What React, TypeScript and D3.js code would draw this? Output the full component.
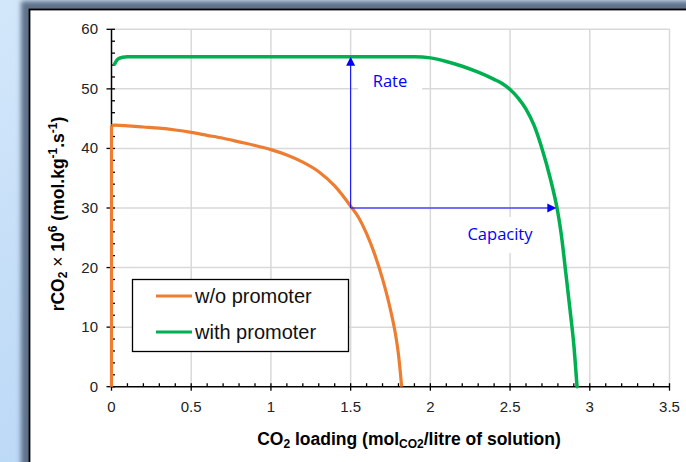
import React from "react";
import * as d3 from "d3";

const W = 686;
const H = 462;

// w/o promoter
const xOrange = [0, 0, 0.02, 0.1, 0.2, 0.3, 0.4, 0.5, 0.6, 0.7, 0.8, 0.9, 1.0, 1.1, 1.2, 1.3, 1.4, 1.5, 1.55, 1.6, 1.65, 1.7, 1.75, 1.78, 1.8, 1.82];
const yOrange = [0, 43.8, 43.9, 43.8, 43.6, 43.4, 43.1, 42.7, 42.2, 41.7, 41.1, 40.5, 39.8, 38.9, 37.7, 36.1, 33.7, 30.3, 28.4, 25.7, 22.3, 18.1, 12.9, 9.0, 5.4, 0];

// with promoter
const xGreen = [0.02, 0.04, 0.07, 0.1, 0.5, 1.0, 1.5, 1.9, 2.0, 2.1, 2.2, 2.3, 2.4, 2.45, 2.5, 2.55, 2.6, 2.65, 2.7, 2.75, 2.8, 2.82, 2.85, 2.88, 2.9, 2.92];
const yGreen = [54.2, 55.0, 55.3, 55.4, 55.4, 55.4, 55.4, 55.4, 55.2, 54.6, 53.8, 52.8, 51.6, 50.9, 49.9, 48.5, 46.6, 43.9, 40.0, 35.2, 29.2, 25.8, 19.0, 12.0, 7.0, 0];

const seriesNames = ["w/o promoter", "with promoter"];
const seriesColors = ["#ED7D31", "#00B050"];

const xTicks = [0, 0.5, 1, 1.5, 2, 2.5, 3, 3.5];
const xTickLabels = ["0", "0.5", "1", "1.5", "2", "2.5", "3", "3.5"];
const yTicks = [0, 10, 20, 30, 40, 50, 60];

// annotation values
const arrowBase = { x: 1.5, y: 30 };
const rateTop = 55.4;
const capacityEnd = 2.79;

export default function App() {
  const x = d3.scaleLinear().domain([0, 3.5]).range([111.5, 669.5]);
  const y = d3.scaleLinear().domain([0, 60]).range([386.7, 29.3]);

  const line = d3
    .line<[number, number]>()
    .x((d) => x(d[0]))
    .y((d) => y(d[1]))
    .curve(d3.curveMonotoneX);
  const straight = d3
    .line<[number, number]>()
    .x((d) => x(d[0]))
    .y((d) => y(d[1]));

  const orangeData: [number, number][] = xOrange.map((v, i) => [v, yOrange[i]]);
  const greenData: [number, number][] = xGreen.map((v, i) => [v, yGreen[i]]);

  const xMinor = d3.range(0, 3.5001, 0.1).filter((v) => Math.abs(v * 2 - Math.round(v * 2)) > 1e-6);
  const yMinor = d3.range(0, 60.001, 2).filter((v) => v % 10 !== 0);

  const font = "'Liberation Sans', Arial, sans-serif";
  const blue = "#0000FF";

  const bx = x(arrowBase.x);
  const by = y(arrowBase.y);
  const topY = y(rateTop);
  const endX = x(capacityEnd);

  return (
    <svg
      width={W}
      height={H}
      style={{ position: "absolute", left: 0, top: 0 }}
      fontFamily={font}
    >
      <defs>
        <linearGradient id="bg" x1="0" y1="0" x2="0" y2="1">
          <stop offset="0" stopColor="#d3e7fa" />
          <stop offset="1" stopColor="#bcd9f6" />
        </linearGradient>
        <filter id="blur" x="-10%" y="-10%" width="120%" height="120%">
          <feGaussianBlur stdDeviation="2.5" />
        </filter>
      </defs>
      <rect x={0} y={0} width={W} height={H} fill="url(#bg)" />
      <rect x={21} y={1} width={720} height={520} fill="#5f7189" filter="url(#blur)" />
      <rect x={29.5} y={9.5} width={700} height={500} fill="#ffffff" stroke="#000" strokeWidth={1.8} />

      {/* gridlines */}
      {xTicks.filter((t) => t > 0).map((t) => (
        <line key={"gx" + t} x1={x(t)} x2={x(t)} y1={y(0)} y2={y(60)} stroke="#d9d9d9" strokeWidth={1.5} />
      ))}
      {yTicks.filter((t) => t > 0).map((t) => (
        <line key={"gy" + t} x1={x(0)} x2={x(3.5)} y1={y(t)} y2={y(t)} stroke="#d9d9d9" strokeWidth={1.5} />
      ))}

      {/* white label boxes */}
      <rect x={358} y={66} width={64} height={34} fill="#fff" />
      <rect x={455} y={217} width={90} height={36} fill="#fff" />

      {/* axes */}
      <line x1={x(0)} x2={x(3.5)} y1={y(0)} y2={y(0)} stroke="#000" strokeWidth={1.5} />
      <line x1={x(0)} x2={x(0)} y1={y(0)} y2={y(60)} stroke="#000" strokeWidth={1.5} />
      {xTicks.map((t) => (
        <line key={"xt" + t} x1={x(t)} x2={x(t)} y1={y(0) - 3.5} y2={y(0) + 4} stroke="#000" strokeWidth={1.3} />
      ))}
      {xMinor.map((t) => (
        <line key={"xm" + t} x1={x(t)} x2={x(t)} y1={y(0) - 3.5} y2={y(0)} stroke="#000" strokeWidth={1.3} />
      ))}
      {yTicks.map((t) => (
        <line key={"yt" + t} x1={x(0) - 5} x2={x(0) + 3.5} y1={y(t)} y2={y(t)} stroke="#000" strokeWidth={1.3} />
      ))}
      {yMinor.map((t) => (
        <line key={"ym" + t} x1={x(0)} x2={x(0) + 3.5} y1={y(t)} y2={y(t)} stroke="#000" strokeWidth={1.3} />
      ))}

      {/* tick labels */}
      {xTicks.map((t, i) => (
        <text key={"xl" + t} x={x(t)} y={412} textAnchor="middle" fontSize={15} fill="#222">
          {xTickLabels[i]}
        </text>
      ))}
      {yTicks.map((t) => (
        <text key={"yl" + t} x={98} y={y(t) + 5} textAnchor="end" fontSize={15} fill="#222">
          {t}
        </text>
      ))}

      {/* axis titles */}
      <text x={409} y={445} textAnchor="middle" fontSize={17.5} fontWeight="bold" fill="#000">
        CO<tspan fontSize={12} dy={3}>2</tspan>
        <tspan dy={-3}> loading (mol</tspan>
        <tspan fontSize={12} dy={3}>CO2</tspan>
        <tspan dy={-3}>/litre of solution)</tspan>
      </text>
      <text
        transform="translate(64,214) rotate(-90)"
        textAnchor="middle"
        fontSize={17.5}
        fontWeight="bold"
        fill="#000"
      >
        rCO<tspan fontSize={12} dy={3}>2</tspan>
        <tspan dy={-3} fontWeight="normal"> × </tspan>
        <tspan>10</tspan>
        <tspan fontSize={12} dy={-7}>6</tspan>
        <tspan dy={7}> (mol.kg</tspan>
        <tspan fontSize={12} dy={-7}>-1</tspan>
        <tspan dy={7}>.s</tspan>
        <tspan fontSize={12} dy={-7}>-1</tspan>
        <tspan dy={7}>)</tspan>
      </text>

      {/* series */}
      <path d={straight(orangeData.slice(0, 2)) || ""} fill="none" stroke={seriesColors[0]} strokeWidth={3.2} />
      <path d={line(orangeData.slice(1)) || ""} fill="none" stroke={seriesColors[0]} strokeWidth={3.2} strokeLinejoin="round" />
      <path d={line(greenData) || ""} fill="none" stroke={seriesColors[1]} strokeWidth={3.5} strokeLinejoin="round" strokeLinecap="round" />

      {/* arrows */}
      <line x1={bx} x2={bx} y1={by} y2={topY + 8} stroke={blue} strokeWidth={1} />
      <path d={`M${bx},${topY} L${bx - 4.5},${topY + 9} L${bx + 4.5},${topY + 9} Z`} fill={blue} />
      <line x1={bx} x2={endX - 8} y1={by} y2={by} stroke={blue} strokeWidth={1} />
      <path d={`M${endX},${by} L${endX - 9},${by - 4.5} L${endX - 9},${by + 4.5} Z`} fill={blue} />

      <text x={390} y={87} textAnchor="middle" fontSize={16.5} fill={blue} fontFamily="'Open Sans', sans-serif">
        Rate
      </text>
      <text x={500} y={240} textAnchor="middle" fontSize={16.5} fill={blue} fontFamily="'Open Sans', sans-serif">
        Capacity
      </text>

      {/* legend */}
      <rect x={132.5} y={279.5} width={216} height={72} fill="#fff" stroke="#000" strokeWidth={1.3} />
      {seriesNames.map((n, i) => (
        <g key={n}>
          <line x1={156} x2={192} y1={296 + i * 36} y2={296 + i * 36} stroke={seriesColors[i]} strokeWidth={3} />
          <text x={195} y={303 + i * 36} fontSize={20} fill="#111">
            {n}
          </text>
        </g>
      ))}
    </svg>
  );
}
